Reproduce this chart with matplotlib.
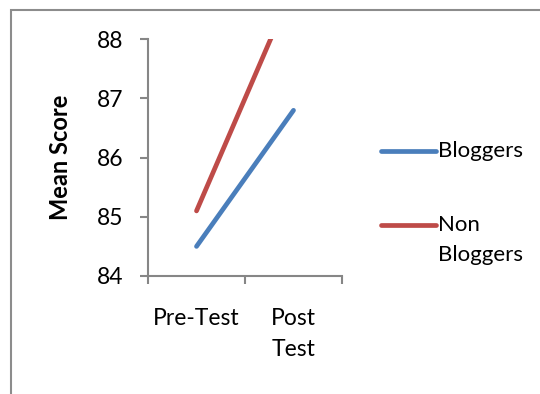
import matplotlib
matplotlib.use("Agg")
import matplotlib.pyplot as plt
from matplotlib.lines import Line2D
from matplotlib.patches import Rectangle

plt.rcParams['font.family'] = ['Lato', 'DejaVu Sans']

phases = ['Pre-Test', 'Post\nTest']
bloggers = [84.5, 86.8]
non_bloggers = [85.1, 88.9]
series_names = ['Bloggers', 'Non\nBloggers']

blue = '#4A7EBB'
red = '#BE4B48'
grey = '#868686'

W, H = 540, 394
fig = plt.figure(figsize=(W / 100, H / 100), dpi=100)

# chart area border (left and top edges visible)
fig.add_artist(Rectangle((11 / W, -0.1), 1.2, (H - 9.5) / H + 0.1,
                         transform=fig.transFigure, fill=False,
                         edgecolor='#8c8c8c', linewidth=1.5))

ax = fig.add_axes([148 / W, (H - 276) / H, (342 - 148) / W, (276 - 39.3) / H])

x = range(len(phases))
ax.plot(x, bloggers, color=blue, lw=3.4, solid_capstyle='round')
ax.plot(x, non_bloggers, color=red, lw=3.4, solid_capstyle='round')

ax.set_xlim(-0.5, 1.5)
ax.set_ylim(84, 88)
ax.set_yticks([84, 85, 86, 87, 88])

# category labels in the middle, tick marks on the boundaries
ax.set_xticks(list(x))
ax.set_xticklabels(phases, fontsize=16.5, linespacing=1.6, va='top')
ax.set_xticks([-0.5, 0.5, 1.5], minor=True)
ax.tick_params(axis='x', which='major', length=0, pad=23)
ax.tick_params(axis='x', which='minor', length=6, width=1.5, color=grey, direction='out')
ax.tick_params(axis='y', length=6, width=1.5, color=grey, labelsize=16.5, pad=12)

for s in ['top', 'right']:
    ax.spines[s].set_visible(False)
for s in ['left', 'bottom']:
    ax.spines[s].set_color(grey)
    ax.spines[s].set_linewidth(1.5)

fig.text(61 / W, 1 - 157 / H, 'Mean Score', rotation=90, fontsize=17,
         fontweight='bold', ha='center', va='center')

# legend
for color, name, yc in [(blue, series_names[0], 151), (red, series_names[1], 225)]:
    fig.add_artist(Line2D([381 / W, 436 / W], [1 - yc / H, 1 - yc / H],
                          transform=fig.transFigure, color=color, lw=3.4,
                          solid_capstyle='round'))
    fig.text(438 / W, 1 - (yc - 10) / H, name, fontsize=16, ha='left', va='top',
             linespacing=1.65)

fig.savefig('out.png', dpi=100)
